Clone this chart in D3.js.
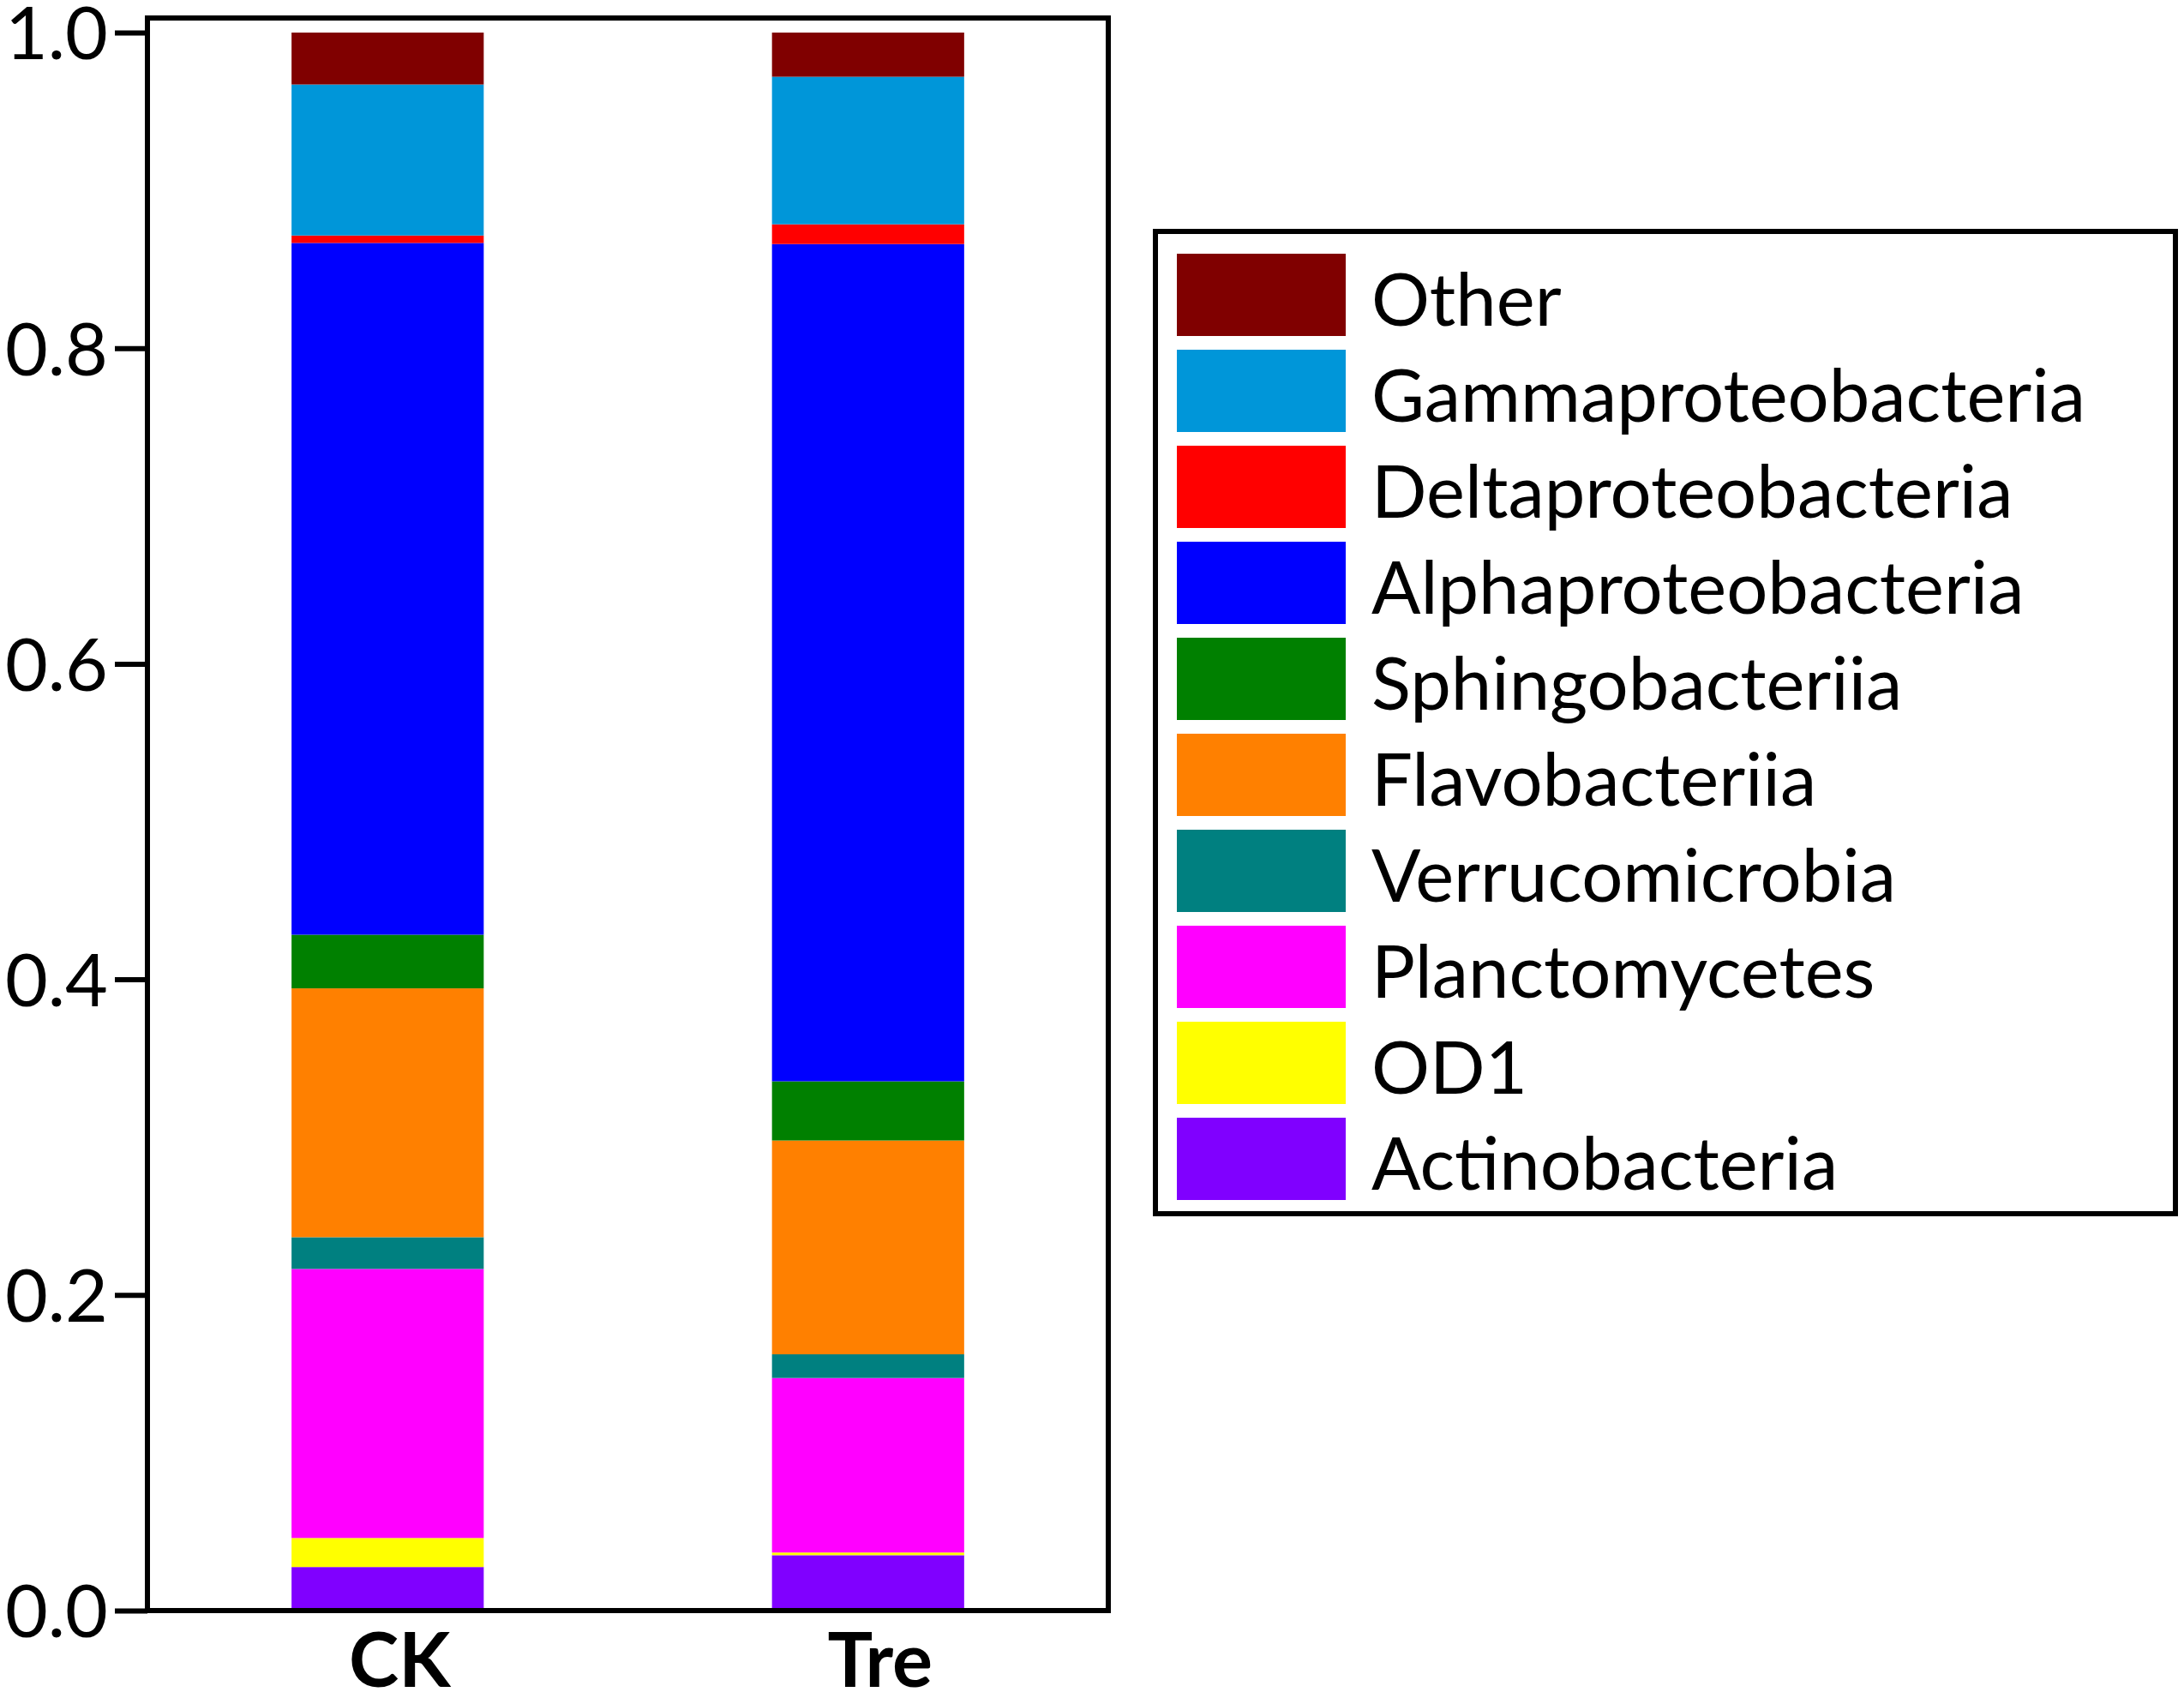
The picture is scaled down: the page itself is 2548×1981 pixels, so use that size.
<!DOCTYPE html>
<html>
<head>
<meta charset="utf-8">
<script src="https://cdn.jsdelivr.net/npm/d3@7"></script>
<style>
    html, body { margin: 0; padding: 0; background: #fff; }
    svg { display: block; }
    .tick text { font-family: Lato, sans-serif; }
</style>
</head>
<body>
<div id="chart"></div>
<script>
// stacking order, bottom to top
const taxa = [
    'Actinobacteria', 'OD1', 'Planctomycetes', 'Verrucomicrobia', 'Flavobacteriia',
    'Sphingobacteriia', 'Alphaproteobacteria', 'Deltaproteobacteria', 'Gammaproteobacteria', 'Other'
];
const groups = ['CK', 'Tre'];
const ckValues  = [0.0276, 0.0184, 0.1705, 0.0201, 0.1577, 0.0340, 0.4384, 0.0047, 0.0957, 0.0329];
const treValues = [0.0351, 0.0017, 0.1106, 0.0150, 0.1355, 0.0375, 0.5306, 0.0125, 0.0935, 0.0280];
const taxaColors = [
    '#8000ff', '#ffff00', '#ff00ff', '#008080', '#ff8000',
    '#008000', '#0000ff', '#ff0000', '#0096d9', '#800000'
];
const yTicks = [0, 0.2, 0.4, 0.6, 0.8, 1.0];

const WIDTH = 2548;
const HEIGHT = 1981;
const PLOT = { left: 172, right: 1293, top: 21, bottom: 1879 };
const LEGEND = { x: 1348, y: 270, w: 1190, h: 1146, sw: 197, sh: 96, step: 112, pad: 26 };

const rows = groups.map((g, i) => {
    const vals = i === 0 ? ckValues : treValues;
    const row = { group: g };
    taxa.forEach((t, j) => { row[t] = vals[j]; });
    return row;
});
const series = d3.stack().keys(taxa)(rows);
const color = d3.scaleOrdinal().domain(taxa).range(taxaColors);

const svg = d3.select('#chart').append('svg')
    .attr('width', WIDTH)
    .attr('height', HEIGHT);

const x = d3.scaleBand()
    .domain(groups)
    .range([PLOT.left, PLOT.right])
    .paddingInner(0.6)
    .paddingOuter(0.3);

const y = d3.scaleLinear()
    .domain([0, 1])
    .range([PLOT.bottom, 38]);

// bars
svg.append('g')
    .selectAll('g')
    .data(series)
    .join('g')
    .attr('fill', d => color(d.key))
    .selectAll('rect')
    .data(d => d)
    .join('rect')
    .attr('x', d => x(d.data.group))
    .attr('width', x.bandwidth())
    .attr('y', d => y(d[1]))
    .attr('height', d => y(d[0]) - y(d[1]));

// frame
svg.append('rect')
    .attr('x', PLOT.left)
    .attr('y', PLOT.top)
    .attr('width', PLOT.right - PLOT.left)
    .attr('height', PLOT.bottom - PLOT.top)
    .attr('fill', 'none')
    .attr('stroke', '#000')
    .attr('stroke-width', 6);

// y axis
const yAxis = svg.append('g')
    .attr('transform', `translate(${PLOT.left},0)`)
    .call(d3.axisLeft(y)
        .tickValues(yTicks)
        .tickFormat(d3.format('.1f'))
        .tickSize(38)
        .tickPadding(8));
yAxis.select('.domain').remove();
yAxis.selectAll('.tick line')
    .attr('stroke', '#000')
    .attr('stroke-width', 6);
yAxis.selectAll('.tick text')
    .attr('fill', '#000')
    .attr('font-size', 86)
    .attr('dy', '0.36em');

// x labels
svg.append('g')
    .selectAll('text')
    .data(groups)
    .join('text')
    .attr('x', d => x(d) + x.bandwidth() / 2 + 14)
    .attr('y', 1968)
    .attr('text-anchor', 'middle')
    .attr('font-family', 'Lato, sans-serif')
    .attr('font-weight', 'bold')
    .attr('font-size', 88)
    .text(d => d);

// legend
const legend = svg.append('g');
legend.append('rect')
    .attr('x', LEGEND.x)
    .attr('y', LEGEND.y)
    .attr('width', LEGEND.w)
    .attr('height', LEGEND.h)
    .attr('fill', 'none')
    .attr('stroke', '#000')
    .attr('stroke-width', 6);

const items = legend.selectAll('g.item')
    .data(taxa.slice().reverse())
    .join('g')
    .attr('class', 'item')
    .attr('transform', (d, i) => `translate(${LEGEND.x + 25},${LEGEND.y + LEGEND.pad + i * LEGEND.step})`);

items.append('rect')
    .attr('width', LEGEND.sw)
    .attr('height', LEGEND.sh)
    .attr('fill', d => color(d));

items.append('text')
    .attr('x', LEGEND.sw + 30)
    .attr('y', LEGEND.sh / 2 + 36)
    .attr('font-family', 'Lato, sans-serif')
    .attr('font-size', 85)
    .attr('fill', '#000')
    .text(d => d);
</script>
</body>
</html>
